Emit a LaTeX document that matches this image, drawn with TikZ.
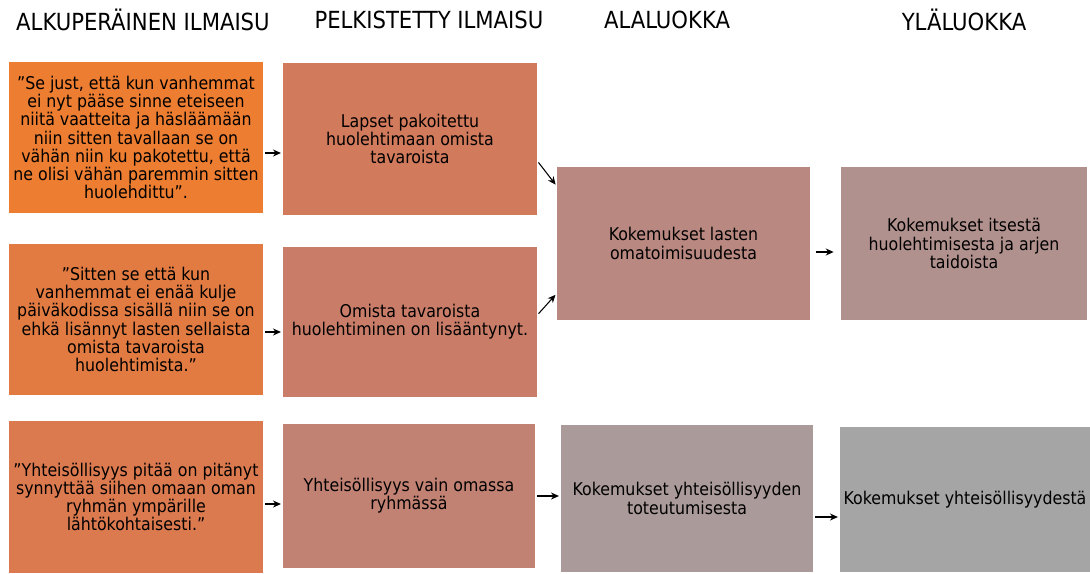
\documentclass[tikz,border=0pt]{standalone}
\usepackage{fontspec}
\setmainfont{DejaVu Sans Condensed}
\usetikzlibrary{arrows.meta}
\definecolor{c1}{HTML}{ED7D31}
\definecolor{c2}{HTML}{E27B42}
\definecolor{c3}{HTML}{DC7A4F}
\definecolor{c4}{HTML}{D27A5C}
\definecolor{c5}{HTML}{C97D69}
\definecolor{c6}{HTML}{C28273}
\definecolor{c7}{HTML}{B98880}
\definecolor{c8}{HTML}{AB9A9A}
\definecolor{c9}{HTML}{B1918D}
\definecolor{c10}{HTML}{A5A5A5}

\begin{document}
\begin{tikzpicture}[box/.style={rectangle, inner sep=2pt, align=center, font=\fontsize{10}{10.4}\selectfont},
  head/.style={font=\fontsize{13.4}{15}\selectfont},
  arr/.style={-{Stealth[length=4.5pt,width=4pt]}, line width=0.6pt, shorten <=1pt, shorten >=1pt}]
\useasboundingbox (0,0) rectangle (21.8,-11.46);
\node[head] (H1) at (2.86,-0.40) {ALKUPERÄINEN ILMAISU};
\node[head] (H2) at (8.58,-0.40) {PELKISTETTY ILMAISU};
\node[head] (H3) at (13.34,-0.40) {ALALUOKKA};
\node[head] (H4) at (19.28,-0.40) {YLÄLUOKKA};
\node[box, fill=c1, minimum width=5.08cm, minimum height=3.02cm] (O1) at (2.72,-2.75) {”Se just, että kun vanhemmat\\ei nyt pääse sinne eteiseen\\niitä vaatteita ja häsläämään\\niin sitten tavallaan se on\\vähän niin ku pakotettu, että\\ne olisi vähän paremmin sitten\\huolehdittu”.};
\node[box, fill=c2, minimum width=5.08cm, minimum height=3.02cm] (O2) at (2.72,-6.39) {”Sitten se että kun\\vanhemmat ei enää kulje\\päiväkodissa sisällä niin se on\\ehkä lisännyt lasten sellaista\\omista tavaroista\\huolehtimista.”};
\node[box, fill=c3, minimum width=5.08cm, minimum height=3.04cm] (O3) at (2.72,-9.94) {”Yhteisöllisyys pitää on pitänyt\\synnyttää siihen omaan oman\\ryhmän ympärille\\lähtökohtaisesti.”};
\node[box, fill=c4, minimum width=5.08cm, minimum height=3.04cm] (P1) at (8.20,-2.78) {Lapset pakoitettu\\huolehtimaan omista\\tavaroista};
\node[box, fill=c5, minimum width=5.08cm, minimum height=3.00cm] (P2) at (8.20,-6.44) {Omista tavaroista\\huolehtiminen on lisääntynyt.};
\node[box, fill=c6, minimum width=5.04cm, minimum height=2.88cm] (P3) at (8.18,-9.92) {Yhteisöllisyys vain omassa\\ryhmässä};
\node[box, fill=c7, minimum width=5.06cm, minimum height=3.06cm] (A1) at (13.67,-4.87) {Kokemukset lasten\\omatoimisuudesta};
\node[box, fill=c8, minimum width=5.04cm, minimum height=2.94cm] (A2) at (13.74,-9.97) {Kokemukset yhteisöllisyyden\\toteutumisesta};
\node[box, fill=c9, minimum width=4.92cm, minimum height=3.06cm] (Y1) at (19.28,-4.87) {Kokemukset itsestä\\huolehtimisesta ja arjen\\taidoista};
\node[box, fill=c10, minimum width=5.00cm, minimum height=2.90cm] (Y2) at (19.30,-9.99) {Kokemukset yhteisöllisyydestä};
% nuolet
\draw[arr] ([yshift=-0.31cm]O1.east) -- ([yshift=-0.31cm]O1.east -| P1.west);
\draw[arr] ([yshift=-0.25cm]O2.east) -- ([yshift=-0.25cm]O2.east -| P2.west);
\draw[arr] ([yshift=-0.14cm]O3.east) -- ([yshift=-0.14cm]O3.east -| P3.west);
\draw[arr] ([yshift=-0.44cm]P1.east) -- ([yshift=1.15cm]A1.west);
\draw[arr] ([yshift=0.14cm]P2.east) -- ([yshift=-1.0cm]A1.west);
\draw[arr] (P3.east) -- (P3.east -| A2.west);
\draw[arr, shorten <=3pt, shorten >=4pt] ([yshift=-0.17cm]A1.east) -- ([yshift=-0.17cm]A1.east -| Y1.west);
\draw[arr] ([yshift=-0.37cm]A2.east) -- ([yshift=-0.37cm]A2.east -| Y2.west);
\end{tikzpicture}
\end{document}
